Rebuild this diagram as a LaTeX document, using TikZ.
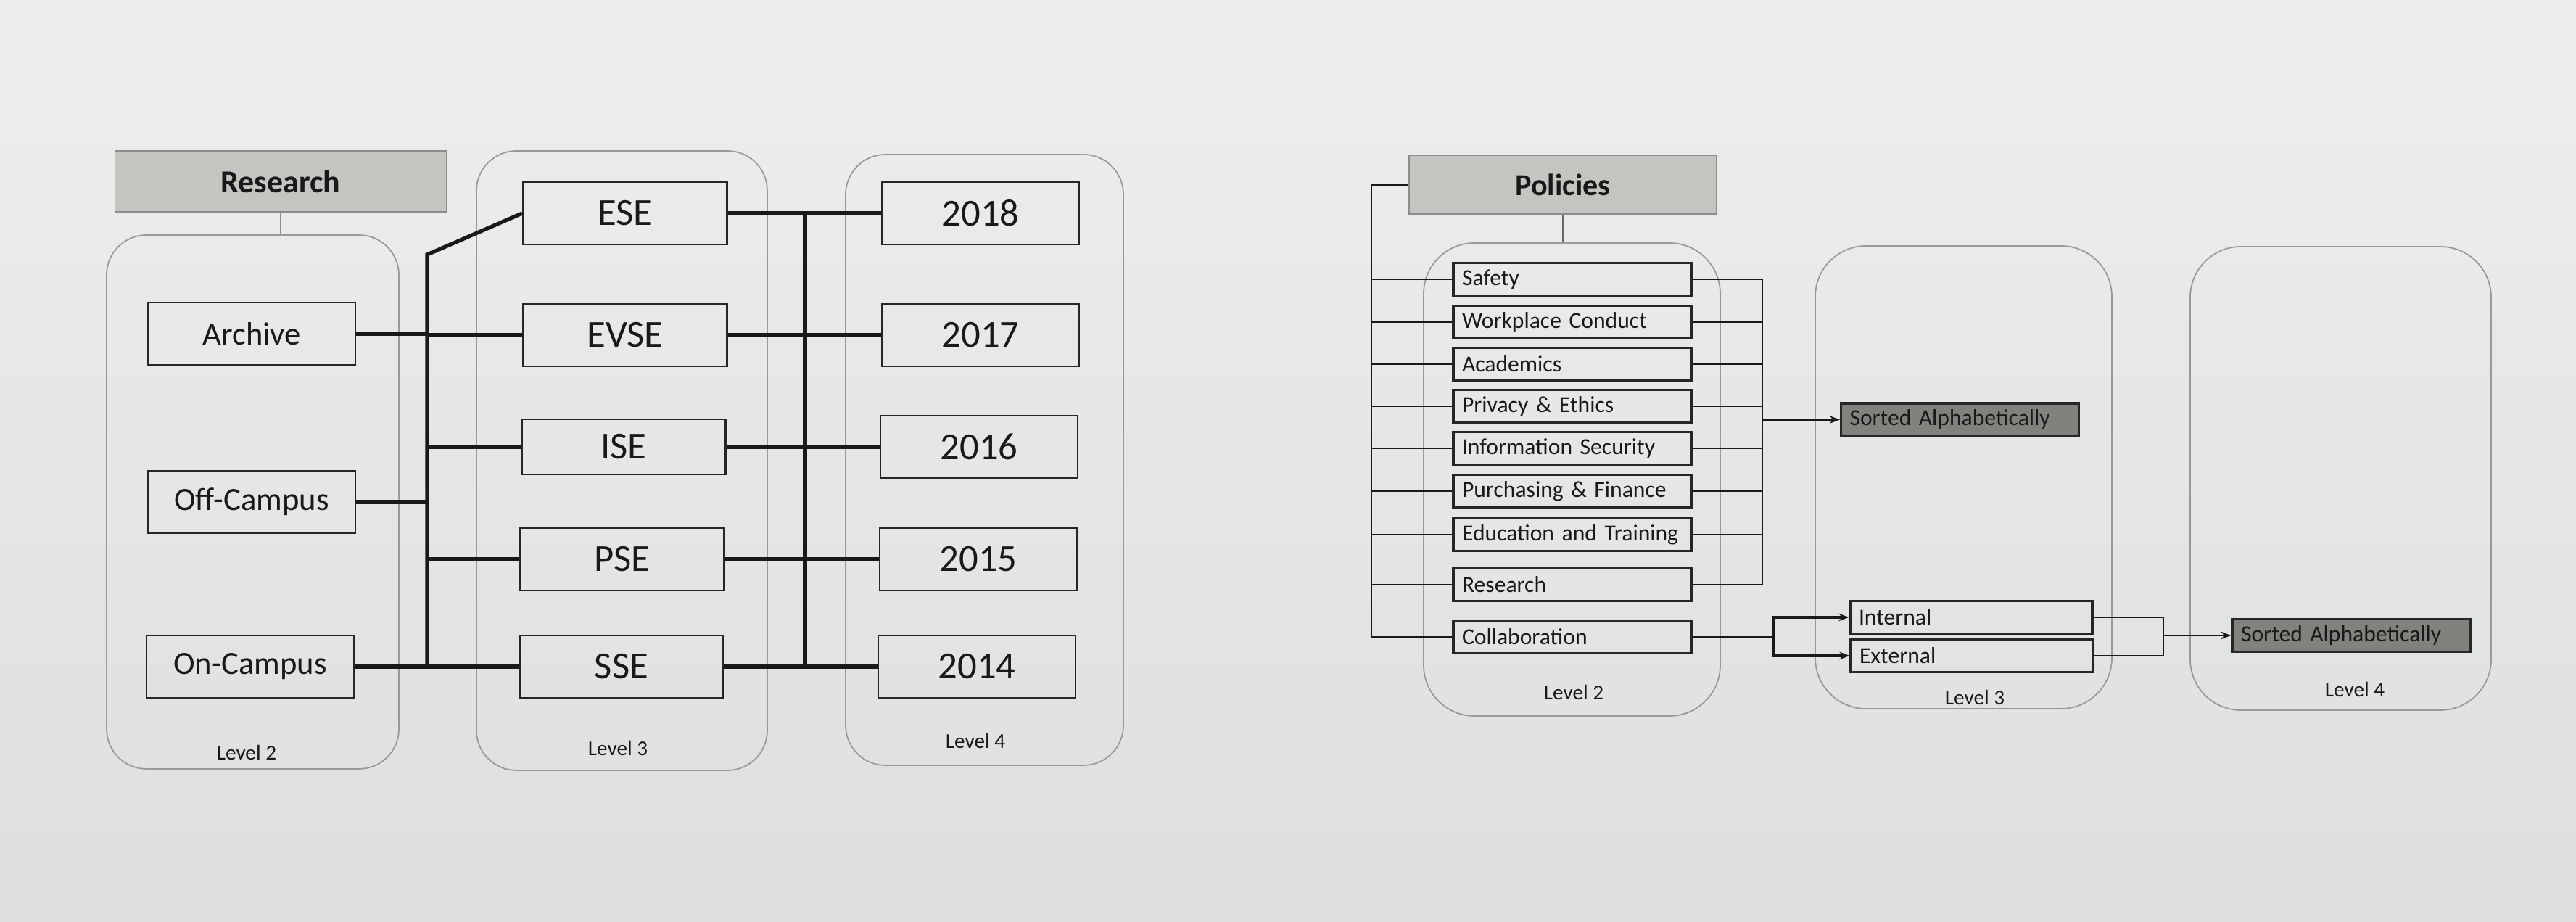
\documentclass[tikz,border=0pt]{standalone}
\usepackage{fontspec}
\setmainfont{Carlito}
\usepackage{tikz}
\usetikzlibrary{arrows.meta}
\usetikzlibrary{positioning}
\definecolor{papertop}{RGB}{237,238,238}
\definecolor{paperbot}{RGB}{221,223,223}
\definecolor{headgray}{RGB}{196,196,193}
\definecolor{sortgray}{RGB}{131,129,125}
\tikzset{lvl/.style={rectangle,rounded corners=0.55cm,draw=black!40,line width=0.5pt}}
\tikzset{headbox/.style={rectangle,draw=black!45,fill=headgray,text=black!90,font=\bfseries\fontsize{12.5}{15}\selectfont}}
\tikzset{resbox/.style={rectangle,draw=black!85,line width=0.8pt,minimum width=2.86cm,minimum height=0.86cm,text=black!90,font=\fontsize{12.7}{15}\selectfont}}
\tikzset{sebox/.style={resbox,minimum width=2.81cm,font=\fontsize{15}{18}\selectfont}}
\tikzset{yearbox/.style={sebox,minimum width=2.72cm}}
\tikzset{polbox/.style={rectangle,draw=black!85,line width=0.9pt,text width=3.04cm,inner xsep=0.12cm,inner ysep=0pt,minimum height=0.45cm,align=left,text=black!90,font=\fontsize{9}{11}\selectfont}}
\tikzset{sortbox/.style={polbox,fill=sortgray}}
\tikzset{lbl/.style={text=black!90,font=\fontsize{8.3}{10}\selectfont}}
\tikzset{bus/.style={line width=1.5pt,black!90}}
\tikzset{plink/.style={line width=0.6pt,black!90}}
\tikzset{parrow/.style={plink,-{Stealth[length=4pt,width=3pt]}}}

\begin{document}
\begin{tikzpicture}
\useasboundingbox (0,0) rectangle (35.52,12.71);
\shade[top color=papertop,bottom color=paperbot] (0,0) rectangle (35.52,12.71);

% Research
\node[headbox, minimum width=4.57cm, minimum height=0.84cm] (res) at (3.87,10.21) {Research};
\node[lvl, minimum width=4.03cm, minimum height=7.36cm] (resL2) at (3.485,5.79) {};
\node[lvl, minimum width=4.01cm, minimum height=8.54cm] (resL3) at (8.575,6.36) {};
\node[lvl, minimum width=3.83cm, minimum height=8.42cm] (resL4) at (13.575,6.37) {};
\node[lbl] (resL2lbl) at (3.40,2.34) {Level 2};
\node[lbl] (resL3lbl) at (8.52,2.40) {Level 3};
\node[lbl] (resL4lbl) at (13.45,2.50) {Level 4};
\draw[black!45, line width=0.5pt] (res.south) -- (res.south |- resL2.north);

\node[resbox] (archive) at (3.47,8.11) {Archive};
\node[resbox] (offcampus) at (3.47,5.79) {Off-Campus};
\node[resbox] (oncampus) at (3.45,3.52) {On-Campus};

\node[sebox] (ese) at (8.62,9.77) {ESE};
\node[sebox] (evse) at (8.62,8.09) {EVSE};
\node[sebox, minimum height=0.76cm] (ise) at (8.60,6.55) {ISE};
\node[sebox] (pse) at (8.58,5.00) {PSE};
\node[sebox] (sse) at (8.57,3.52) {SSE};

\node[yearbox] (y18) at (13.52,9.77) {2018};
\node[yearbox] (y17) at (13.52,8.09) {2017};
\node[yearbox] (y16) at (13.50,6.55) {2016};
\node[yearbox] (y15) at (13.49,5.00) {2015};
\node[yearbox] (y14) at (13.47,3.52) {2014};

\coordinate (lbtop) at (5.89,9.20);
\coordinate (lbbot) at (5.89,3.52);
\draw[bus] (ese.west) -- (lbtop) -- (lbbot);
\draw[bus] (archive.east) -- (archive.east -| lbtop);
\draw[bus] (offcampus.east) -- (offcampus.east -| lbtop);
\draw[bus] (oncampus.east) -- (sse.west);
\foreach \n in {evse,ise,pse}
  \draw[bus] (lbtop |- \n.west) -- (\n.west);

\coordinate (rbtop) at (11.10,9.77);
\coordinate (rbbot) at (11.10,3.52);
\draw[bus] (rbtop) -- (rbbot);
\foreach \a/\b in {ese/y18,evse/y17,ise/y16,pse/y15,sse/y14}
  \draw[bus] (\a.east) -- (\b.west);

% Policies
\node[headbox, font=\bfseries\fontsize{12}{14}\selectfont, minimum width=4.24cm, minimum height=0.81cm] (pol) at (21.55,10.165) {Policies};
\node[lvl, rounded corners=0.7cm, minimum width=4.09cm, minimum height=6.52cm] (polL2) at (21.675,6.10) {};
\node[lvl, rounded corners=0.7cm, minimum width=4.09cm, minimum height=6.38cm] (polL3) at (27.075,6.13) {};
\node[lvl, rounded corners=0.7cm, minimum width=4.15cm, minimum height=6.39cm] (polL4) at (32.275,6.115) {};
\node[lbl] (polL2lbl) at (21.70,3.17) {Level 2};
\node[lbl] (polL3lbl) at (27.23,3.10) {Level 3};
\node[lbl] (polL4lbl) at (32.47,3.21) {Level 4};
\draw[black!60, line width=0.5pt] (pol.south) -- (pol.south |- polL2.north);

\foreach \n/\y/\t in {safety/8.86/Safety, workplace/8.27/Workplace Conduct,
    academics/7.69/Academics, privacy/7.11/Privacy \& Ethics,
    infosec/6.53/Information Security, purchasing/5.94/Purchasing \& Finance,
    education/5.34/Education and Training, research/4.65/Research,
    collab/3.93/Collaboration}
  \node[polbox] (\n) at (21.68,\y) {\t};

\node[sortbox] (sort1) at (27.025,6.925) {Sorted Alphabetically};
\node[polbox, text width=3.10cm] (internal) at (27.18,4.20) {Internal};
\node[polbox, text width=3.10cm] (external) at (27.19,3.67) {External};
\node[sortbox] (sort2) at (32.42,3.95) {Sorted Alphabetically};

\coordinate (plb) at (18.91,10.165);
\draw[plink] (pol.west) -- (plb) |- (collab.west);
\foreach \n in {safety,workplace,academics,privacy,infosec,purchasing,education,research}
  \draw[plink] (plb |- \n.west) -- (\n.west);

\coordinate (prb) at (24.30,8.86);
\draw[plink] (prb) -- (prb |- research.east);
\foreach \n in {safety,workplace,academics,privacy,infosec,purchasing,education,research}
  \draw[plink] (\n.east) -- (prb |- \n.east);
\draw[parrow] (prb |- sort1.west) -- (sort1.west);

\coordinate (cj) at (24.45,3.93);
\draw[plink] (collab.east) -- (cj);
\draw[parrow, line width=0.9pt] (cj) |- (internal.west);
\draw[parrow, line width=0.9pt] (cj) |- (external.west);

\coordinate (mj) at (29.83,3.95);
\draw[plink] (internal.east) -| (mj);
\draw[plink] (external.east) -| (mj);
\draw[parrow] (mj) -- (sort2.west);
\end{tikzpicture}
\end{document}
